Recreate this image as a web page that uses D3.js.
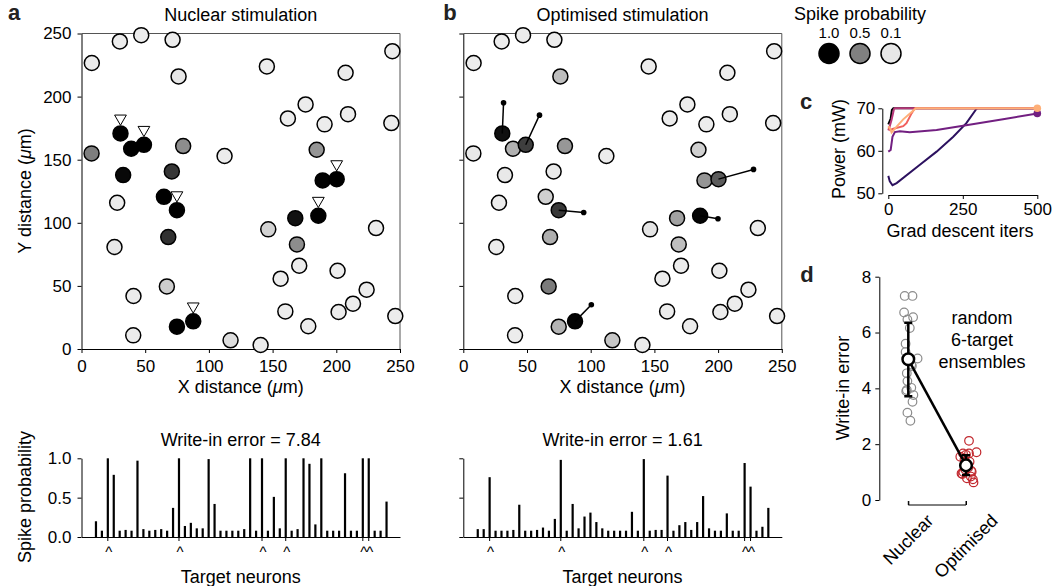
<!DOCTYPE html>
<html>
<head>
<meta charset="utf-8">
<script src="https://cdn.jsdelivr.net/npm/d3@7"></script>
<style>
  body { margin: 0; background: #fff; }
  svg { font-family: "Liberation Sans", Arial, Helvetica, sans-serif; }
  .axis text { font-size: 17px; fill: #000; }
  .axis path, .axis line { stroke: #000; stroke-width: 1; }
  .lbl { font-size: 18px; fill: #000; }
  .letter { font-size: 22px; font-weight: bold; fill: #222; }
</style>
</head>
<body>
<svg id="fig" width="1055" height="586"></svg>
<script>
// ---- neuron positions (um) ----
const neuronX = [8.1, 30.1, 46.9, 71.5, 76.2, 145.5, 244, 207.3, 175.9, 162, 190.8, 209.2, 243.2,
  7.9, 30.6, 39, 49, 79.8, 112.3, 32.7, 70.9, 64.7, 74.9, 28, 68.1, 25.9, 40.8, 40.6, 67, 74.9,
  87.7, 117, 140.6, 146.6, 184.6, 189.3, 200.3, 167.8, 185.9, 169.1, 170.9, 156.3, 201, 223.8,
  231.2, 160, 178, 201.8, 213.1, 246.3];
const neuronY = [226.6, 243.7, 248.7, 245, 216, 223.9, 236, 218.9, 193.8, 182.7, 178, 186.1, 179,
  155, 170.8, 158.7, 161.8, 160.8, 152.9, 137.8, 140.7, 120.6, 110, 115.9, 88.7, 80.8, 42, 10.8,
  49.6, 17.7, 21.9, 6.9, 3.2, 94.8, 157.9, 133.6, 134.6, 103.7, 105.6, 82.9, 66, 55.7, 62, 47,
  95.8, 29.8, 18, 29.3, 35.9, 26.1];

// spike probability of each neuron
const probNuclear = [0.08, 0.08, 0.08, 0.08, 0.1, 0.08, 0.08, 0.08, 0.08, 0.08, 0.08, 0.08, 0.08,
  0.51, 1.0, 1.0, 1.0, 0.45, 0.08, 0.97, 0.79, 1.0, 1.0, 0.08, 0.81, 0.1, 0.08, 0.08, 0.2, 1.0,
  1.0, 0.14, 0.08, 0.18, 0.42, 0.99, 1.0, 0.93, 1.0, 0.45, 0.08, 0.08, 0.08, 0.08, 0.08, 0.08,
  0.08, 0.08, 0.08, 0.08];
const probOptim = [0.08, 0.08, 0.08, 0.08, 0.26, 0.08, 0.08, 0.08, 0.08, 0.08, 0.08, 0.08, 0.08,
  0.09, 0.94, 0.31, 0.76, 0.41, 0.08, 0.09, 0.09, 0.19, 0.78, 0.08, 0.32, 0.08, 0.08, 0.08, 0.52,
  0.30, 0.99, 0.23, 0.08, 0.11, 0.19, 0.42, 0.64, 0.37, 0.98, 0.26, 0.08, 0.08, 0.08, 0.08, 0.08,
  0.08, 0.08, 0.08, 0.08, 0.08];

// target neurons (indices) and optimised stimulation points
const targets = [14, 16, 22, 30, 36, 38];
const optimStimX = [31.6, 59.8, 94.5, 100.5, 227.8, 199.9];
const optimStimY = [195.1, 185.3, 108.2, 35.1, 142.3, 103.2];

// bar charts: spike probability per target neuron
const barsNuclear = [0.20, 0.08, 1.0, 0.79, 0.08, 0.09, 0.08, 0.97, 0.10, 0.08, 0.09, 0.10, 0.08,
  0.37, 1.0, 0.14, 0.18, 0.11, 0.11, 0.99, 0.42, 0.08, 0.08, 0.08, 0.08, 0.10, 1.0, 0.08, 1.0,
  0.08, 0.51, 0.11, 1.0, 0.08, 0.10, 1.0, 0.93, 0.16, 1.0, 0.08, 0.08, 0.08, 0.81, 0.08, 0.08,
  1.0, 1.0, 0.08, 0.08, 0.45];
const barsOptim = [0.10, 0.10, 0.76, 0.08, 0.08, 0.08, 0.09, 0.41, 0.08, 0.08, 0.09, 0.12, 0.08,
  0.23, 0.98, 0.08, 0.42, 0.11, 0.26, 0.31, 0.19, 0.11, 0.08, 0.08, 0.08, 0.08, 0.32, 0.08, 0.99,
  0.08, 0.09, 0.09, 0.78, 0.08, 0.15, 0.19, 0.09, 0.19, 0.52, 0.11, 0.08, 0.08, 0.30, 0.08, 0.08,
  0.94, 0.64, 0.08, 0.13, 0.37];
const targetBars = [2, 14, 28, 32, 45, 46];
const errNuclear = '7.84';
const errOptim = '1.61';

// panel c: power vs gradient descent iterations
const powerSeries = [
  [[0, 66.2], [8, 67.6], [12, 69.6], [17, 70], [500, 70]],
  [[0, 54.1], [5, 52.8], [14, 51.9], [28, 52.4], [106, 56.7], [162, 59.8], [218, 63.3], [262, 66.5], [296, 69.9], [300, 70], [500, 70]],
  [[0, 59.8], [8, 60.2], [14, 63.3], [22, 64.4], [39, 64.6], [72, 64.35], [162, 64.9], [251, 65.9], [385, 67.4], [500, 68.8]],
  [[0, 64.8], [3, 65.3], [11, 67.3], [19, 69.8], [22, 70], [500, 70]],
  [[0, 65.5], [6, 64.9], [17, 65.2], [50, 65.8], [61, 66.5], [78, 68.8], [89, 70], [500, 70]],
  [[0, 65.8], [6, 65.3], [11, 64.3], [28, 65.7], [50, 67.4], [89, 69.8], [92, 70], [500, 70]]
];
const powerColors = ['#000004', '#2c115f', '#721f81', '#b73779', '#f1605d', '#feaf78'];

// panel d: write-in error of random 6-target ensembles
const categories = ['Nuclear', 'Optimised'];
const errNuclearAll = [7.31, 7.31, 6.72, 6.47, 6.55, 6.16, 5.6, 5.3, 5.07, 4.8, 4.54, 4.26, 4.02, 3.94, 3.76, 3.52, 3.13, 2.84, 4.85, 3.9];
const jitterNuclear = [-0.12, 0.14, -0.14, -0.03, 0.16, 0.05, -0.09, -0.09, 0.31, 0.12, -0.05, -0.03, 0.1, -0.05, 0.17, 0.14, -0.03, 0.07, 0.1, -0.07];
const errOptimAll = [2.12, 1.71, 1.67, 1.67, 1.55, 1.62, 1.37, 1.45, 1.25, 0.93, 0.78, 1.01, 0.74, 0.63, 1.1, 0.84, 1.0, 1.15, 0.95, 1.05];
const jitterOptim = [0.1, 0.35, -0.1, 0.1, -0.19, 0.0, 0.12, -0.05, 0.05, -0.12, 0.03, 0.19, 0.23, 0.25, -0.03, 0.16, -0.09, 0.07, -0.15, 0.17];
const errMean = [5.04, 1.24];
const errLo = [3.72, 0.9];
const errHi = [6.35, 1.6];

const svg = d3.select('#fig');
const gray = d3.scaleLinear().domain([0.08, 1]).range(['#ececec', '#000000']).clamp(true);

function text(x, y, s, cls, anchor) {
  return svg.append('text').attr('x', x).attr('y', y).attr('class', cls || 'lbl')
    .attr('text-anchor', anchor || 'middle').text(s);
}

// ---------- scatter panels ----------
function scatter(left, probs, title, showLabels, optim) {
  const right = left + 318.5;
  const x = d3.scaleLinear().domain([0, 250]).range([left, right]);
  const y = d3.scaleLinear().domain([0, 250]).range([349, 33.5]);
  const g = svg.append('g');

  // frame (top/right)
  g.append('path').attr('d', `M${left},${y(250)}H${right}V${y(0)}`)
    .attr('fill', 'none').attr('stroke', '#555').attr('stroke-width', 1);

  g.append('g').attr('class', 'axis').attr('transform', `translate(0,${y(0)})`)
    .call(d3.axisBottom(x).tickValues([0, 50, 100, 150, 200, 250]).tickSize(4).tickPadding(7).tickSizeOuter(0));
  g.append('g').attr('class', 'axis').attr('transform', `translate(${left},0)`)
    .call(d3.axisLeft(y).tickValues([0, 50, 100, 150, 200, 250]).tickSize(4).tickPadding(6).tickSizeOuter(0)
      .tickFormat(showLabels ? d3.format('d') : ''));

  text((left + right) / 2, 21, title);
  const xl = text((left + right) / 2, 393, 'X distance (');
  xl.append('tspan').attr('font-style', 'italic').text('μ');
  xl.append('tspan').text('m)');

  const idx = d3.range(neuronX.length);
  g.append('g').selectAll('circle').data(idx).join('circle')
    .attr('cx', i => x(neuronX[i])).attr('cy', i => y(neuronY[i])).attr('r', 7.5)
    .attr('fill', i => gray(probs[i])).attr('stroke', '#000').attr('stroke-width', 1.5);

  if (optim) {
    g.append('g').selectAll('line').data(targets).join('line')
      .attr('x1', i => x(neuronX[i])).attr('y1', i => y(neuronY[i]))
      .attr('x2', (i, k) => x(optimStimX[k])).attr('y2', (i, k) => y(optimStimY[k]))
      .attr('stroke', '#000').attr('stroke-width', 1.5);
    g.append('g').selectAll('circle').data(targets).join('circle')
      .attr('cx', (i, k) => x(optimStimX[k])).attr('cy', (i, k) => y(optimStimY[k])).attr('r', 2.8)
      .attr('fill', '#000');
  } else {
    g.append('g').selectAll('path').data(targets).join('path')
      .attr('d', d3.symbol(d3.symbolTriangle, 60))
      .attr('transform', i => `translate(${x(neuronX[i])},${y(neuronY[i]) - 15}) rotate(180)`)
      .attr('fill', '#fff').attr('stroke', '#000').attr('stroke-width', 1);
  }
}

scatter(81.5, probNuclear, 'Nuclear stimulation', true, false);
scatter(463.3, probOptim, 'Optimised stimulation', false, true);

const yl = svg.append('text').attr('class', 'lbl').attr('text-anchor', 'middle')
  .attr('transform', 'translate(31,191) rotate(-90)').text('Y distance (');
yl.append('tspan').attr('font-style', 'italic').text('μ');
yl.append('tspan').text('m)');

// ---------- bar panels ----------
function bars(left, values, err, showLabels) {
  const right = left + 318.5;
  const x = d3.scaleBand().domain(d3.range(values.length)).range([left + 11.5, right - 10.5]);
  const y = d3.scaleLinear().domain([0, 1]).range([537, 458.3]);
  const g = svg.append('g');

  g.append('g').selectAll('rect').data(values).join('rect')
    .attr('x', (d, i) => x(i) + x.bandwidth() / 2 - 1.1).attr('width', 2.2)
    .attr('y', d => y(d)).attr('height', d => y(0) - y(d)).attr('fill', '#000');

  g.append('g').attr('class', 'axis').attr('transform', `translate(0,${y(0)})`)
    .call(d3.axisBottom(d3.scaleLinear().domain([0, 1]).range([left, right])).tickValues([]).tickSizeOuter(0));
  // ticks under target bars
  g.append('g').selectAll('line').data(targetBars).join('line')
    .attr('x1', i => x(i) + x.bandwidth() / 2).attr('x2', i => x(i) + x.bandwidth() / 2)
    .attr('y1', y(0)).attr('y2', y(0) + 4).attr('stroke', '#000');
  g.append('g').selectAll('text').data(targetBars).join('text')
    .attr('x', i => x(i) + x.bandwidth() / 2 + 1).attr('y', 557)
    .attr('text-anchor', 'middle').attr('font-size', 15).text('^');

  g.append('g').attr('class', 'axis').attr('transform', `translate(${left},0)`)
    .call(d3.axisLeft(y).tickValues([0, 0.5, 1]).tickSize(4).tickPadding(6).tickSizeOuter(0)
      .tickFormat(showLabels ? d3.format('.1f') : ''));

  text((left + right) / 2, 446, 'Write-in error = ' + err);
  text((left + right) / 2, 583, 'Target neurons');
}

bars(81.5, barsNuclear, errNuclear, true);
bars(463.3, barsOptim, errOptim, false);
svg.append('text').attr('class', 'lbl').attr('text-anchor', 'middle')
  .attr('transform', 'translate(31,497) rotate(-90)').text('Spike probability');

// ---------- legend ----------
const legendP = [1.0, 0.5, 0.1];
const legX = d3.scalePoint().domain(legendP).range([829, 891]);
text(860, 20, 'Spike probability').attr('font-size', 15);
svg.append('g').selectAll('text').data(legendP).join('text')
  .attr('x', d => legX(d)).attr('y', 38).attr('text-anchor', 'middle').attr('font-size', 15)
  .text(d => d3.format('.1f')(d));
svg.append('g').selectAll('circle').data(legendP).join('circle')
  .attr('cx', d => legX(d)).attr('cy', 53.5).attr('r', 10)
  .attr('fill', d => gray(d)).attr('stroke', '#000').attr('stroke-width', 1.5);

// ---------- panel c ----------
{
  const x = d3.scaleLinear().domain([0, 500]).range([888.3, 1037.3]);
  const y = d3.scaleLinear().domain([50, 70]).range([193.3, 108.3]);
  const g = svg.append('g');
  g.append('g').attr('class', 'axis').attr('transform', 'translate(0,195)')
    .call(d3.axisBottom(x).tickValues([0, 250, 500]).tickSize(4).tickPadding(4).tickSizeOuter(0));
  g.append('g').attr('class', 'axis').attr('transform', 'translate(882.3,0)')
    .call(d3.axisLeft(y).tickValues([50, 60, 70]).tickSize(4).tickPadding(3).tickSizeOuter(0));
  const line = d3.line().x(d => x(d[0])).y(d => y(d[1]));
  g.append('g').selectAll('path').data(powerSeries).join('path')
    .attr('d', line).attr('fill', 'none').attr('stroke', (d, i) => powerColors[i]).attr('stroke-width', 2);
  const ends = [2, 5];
  g.append('g').selectAll('circle').data(ends).join('circle')
    .attr('cx', i => x(powerSeries[i][powerSeries[i].length - 1][0]))
    .attr('cy', i => y(powerSeries[i][powerSeries[i].length - 1][1]))
    .attr('r', 3.8).attr('fill', i => powerColors[i]);
  svg.append('text').attr('class', 'lbl').attr('text-anchor', 'middle')
    .attr('transform', 'translate(845,149) rotate(-90)').text('Power (mW)');
  text(960, 237, 'Grad descent iters');
}

// ---------- panel d ----------
{
  const x = d3.scalePoint().domain(categories).range([908.3, 966]);
  const y = d3.scaleLinear().domain([0, 8]).range([500, 276.7]);
  const g = svg.append('g');
  g.append('g').attr('class', 'axis').attr('transform', 'translate(879.3,0)')
    .call(d3.axisLeft(y).tickValues([0, 2, 4, 6, 8]).tickSize(4).tickPadding(4).tickSizeOuter(0));
  g.append('g').attr('class', 'axis').attr('transform', 'translate(0,505)')
    .call(d3.axisBottom(x).tickSize(-4).tickSizeOuter(-4).tickFormat(''))
    .select('.domain').attr('d', `M${x('Nuclear')},-4V0H${x('Optimised')}V-4`);

  const bw = 30;
  g.append('g').selectAll('circle').data(errNuclearAll).join('circle')
    .attr('cx', (d, i) => x('Nuclear') + jitterNuclear[i] * bw).attr('cy', d => y(d)).attr('r', 4.3)
    .attr('fill', 'none').attr('stroke', '#8c8c8c').attr('stroke-width', 1.2);
  g.append('g').selectAll('circle').data(errOptimAll).join('circle')
    .attr('cx', (d, i) => x('Optimised') + jitterOptim[i] * bw).attr('cy', d => y(d)).attr('r', 4.3)
    .attr('fill', 'none').attr('stroke', '#c1272d').attr('stroke-width', 1.2);

  g.append('path').attr('d', d3.line()(categories.map((c, i) => [x(c), y(errMean[i])])))
    .attr('stroke', '#000').attr('stroke-width', 2.5).attr('fill', 'none');
  categories.forEach((c, i) => {
    const cx = x(c);
    g.append('path').attr('d', `M${cx},${y(errLo[i])}V${y(errHi[i])}M${cx - 4},${y(errLo[i])}H${cx + 4}M${cx - 4},${y(errHi[i])}H${cx + 4}`)
      .attr('stroke', '#000').attr('stroke-width', 2.5).attr('fill', 'none');
  });
  g.append('g').selectAll('circle').data(categories).join('circle')
    .attr('cx', c => x(c)).attr('cy', (c, i) => y(errMean[i])).attr('r', 5.8)
    .attr('fill', '#fff').attr('stroke', '#000').attr('stroke-width', 2.5);

  categories.forEach(c => {
    const t = svg.append('text').attr('class', 'lbl').attr('text-anchor', 'middle')
      .attr('dominant-baseline', 'central').text(c);
    const len = t.node().getComputedTextLength();
    const half = (len + 13) * Math.SQRT1_2 / 2;
    t.attr('transform', `translate(${x(c)},${513 + half}) rotate(-45)`);
  });

  svg.append('text').attr('class', 'lbl').attr('text-anchor', 'middle')
    .attr('transform', 'translate(849,388) rotate(-90)').text('Write-in error');
  ['random', '6-target', 'ensembles'].forEach((s, i) => {
    text(982, 324 + i * 21.8, s).attr('fill', '#333');
  });
}

// panel letters
text(14, 20, 'a', 'letter');
text(450, 20, 'b', 'letter');
text(806, 109, 'c', 'letter');
text(807, 282, 'd', 'letter');
</script>
</body>
</html>
